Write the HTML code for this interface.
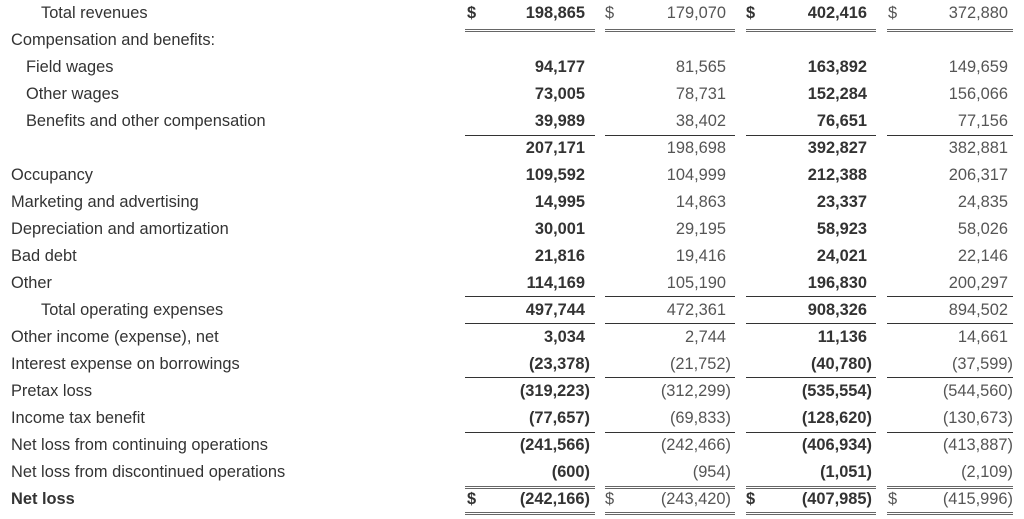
<!DOCTYPE html>
<html><head><meta charset="utf-8"><style>
body{margin:0;width:1024px;height:519px;background:#fff;position:relative;overflow:hidden;font-family:"Liberation Sans",Arial,sans-serif;font-size:16.4px;color:#333}
.r{position:absolute;left:0;width:1024px;height:27px;line-height:27px}
.l{position:absolute;white-space:nowrap}
.n{position:absolute;text-align:right;white-space:nowrap}
.c1{right:439px}.c2{right:298px}.c3{right:157px}.c4{right:11px}
.p{margin-right:-5px}
.b{font-weight:bold;color:#333}
.g{color:#555}
.d{position:absolute;font-weight:bold}
.hl{position:absolute;height:1px;background:#333}
.dl{position:absolute;height:1px;border-top:1px solid #666;border-bottom:1px solid #666}
</style></head><body>
<div class="r" style="top:0"><span class="l" style="left:41px">Total revenues</span><span class="d" style="left:467px">$</span><span class="n c1 b">198,865</span><span class="d g" style="left:605px;font-weight:normal">$</span><span class="n c2 g">179,070</span><span class="d" style="left:746px">$</span><span class="n c3 b">402,416</span><span class="d g" style="left:888px;font-weight:normal">$</span><span class="n c4 g" style="right:16px">372,880</span></div>
<div class="r" style="top:27px"><span class="l" style="left:11px">Compensation and benefits:</span></div>
<div class="r" style="top:54px"><span class="l" style="left:26px">Field wages</span><span class="n c1 b">94,177</span><span class="n c2 g">81,565</span><span class="n c3 b">163,892</span><span class="n c4 g" style="right:16px">149,659</span></div>
<div class="r" style="top:81px"><span class="l" style="left:26px">Other wages</span><span class="n c1 b">73,005</span><span class="n c2 g">78,731</span><span class="n c3 b">152,284</span><span class="n c4 g" style="right:16px">156,066</span></div>
<div class="r" style="top:108px"><span class="l" style="left:26px">Benefits and other compensation</span><span class="n c1 b">39,989</span><span class="n c2 g">38,402</span><span class="n c3 b">76,651</span><span class="n c4 g" style="right:16px">77,156</span></div>
<div class="r" style="top:135px"><span class="n c1 b">207,171</span><span class="n c2 g">198,698</span><span class="n c3 b">392,827</span><span class="n c4 g" style="right:16px">382,881</span></div>
<div class="r" style="top:162px"><span class="l" style="left:11px">Occupancy</span><span class="n c1 b">109,592</span><span class="n c2 g">104,999</span><span class="n c3 b">212,388</span><span class="n c4 g" style="right:16px">206,317</span></div>
<div class="r" style="top:189px"><span class="l" style="left:11px">Marketing and advertising</span><span class="n c1 b">14,995</span><span class="n c2 g">14,863</span><span class="n c3 b">23,337</span><span class="n c4 g" style="right:16px">24,835</span></div>
<div class="r" style="top:216px"><span class="l" style="left:11px">Depreciation and amortization</span><span class="n c1 b">30,001</span><span class="n c2 g">29,195</span><span class="n c3 b">58,923</span><span class="n c4 g" style="right:16px">58,026</span></div>
<div class="r" style="top:243px"><span class="l" style="left:11px">Bad debt</span><span class="n c1 b">21,816</span><span class="n c2 g">19,416</span><span class="n c3 b">24,021</span><span class="n c4 g" style="right:16px">22,146</span></div>
<div class="r" style="top:270px"><span class="l" style="left:11px">Other</span><span class="n c1 b">114,169</span><span class="n c2 g">105,190</span><span class="n c3 b">196,830</span><span class="n c4 g" style="right:16px">200,297</span></div>
<div class="r" style="top:297px"><span class="l" style="left:41px">Total operating expenses</span><span class="n c1 b">497,744</span><span class="n c2 g">472,361</span><span class="n c3 b">908,326</span><span class="n c4 g" style="right:16px">894,502</span></div>
<div class="r" style="top:324px"><span class="l" style="left:11px">Other income (expense), net</span><span class="n c1 b">3,034</span><span class="n c2 g">2,744</span><span class="n c3 b">11,136</span><span class="n c4 g" style="right:16px">14,661</span></div>
<div class="r" style="top:351px"><span class="l" style="left:11px">Interest expense on borrowings</span><span class="n c1 b p">(23,378)</span><span class="n c2 g p">(21,752)</span><span class="n c3 b p">(40,780)</span><span class="n c4 g" style="right:11px">(37,599)</span></div>
<div class="r" style="top:378px"><span class="l" style="left:11px">Pretax loss</span><span class="n c1 b p">(319,223)</span><span class="n c2 g p">(312,299)</span><span class="n c3 b p">(535,554)</span><span class="n c4 g" style="right:11px">(544,560)</span></div>
<div class="r" style="top:405px"><span class="l" style="left:11px">Income tax benefit</span><span class="n c1 b p">(77,657)</span><span class="n c2 g p">(69,833)</span><span class="n c3 b p">(128,620)</span><span class="n c4 g" style="right:11px">(130,673)</span></div>
<div class="r" style="top:432px"><span class="l" style="left:11px">Net loss from continuing operations</span><span class="n c1 b p">(241,566)</span><span class="n c2 g p">(242,466)</span><span class="n c3 b p">(406,934)</span><span class="n c4 g" style="right:11px">(413,887)</span></div>
<div class="r" style="top:459px"><span class="l" style="left:11px">Net loss from discontinued operations</span><span class="n c1 b p">(600)</span><span class="n c2 g p">(954)</span><span class="n c3 b p">(1,051)</span><span class="n c4 g" style="right:11px">(2,109)</span></div>
<div class="r" style="top:486px"><span class="l b" style="left:11px">Net loss</span><span class="d" style="left:467px">$</span><span class="n c1 b p">(242,166)</span><span class="d g" style="left:605px;font-weight:normal">$</span><span class="n c2 g p">(243,420)</span><span class="d" style="left:746px">$</span><span class="n c3 b p">(407,985)</span><span class="d g" style="left:888px;font-weight:normal">$</span><span class="n c4 g" style="right:11px">(415,996)</span></div>

<div class="dl" style="top:29px;left:465px;width:130px"></div><div class="dl" style="top:29px;left:605px;width:130px"></div><div class="dl" style="top:29px;left:746px;width:130px"></div><div class="dl" style="top:29px;left:887px;width:126px"></div>
<div class="hl" style="top:135px;left:465px;width:130px"></div><div class="hl" style="top:135px;left:605px;width:130px"></div><div class="hl" style="top:135px;left:746px;width:130px"></div><div class="hl" style="top:135px;left:887px;width:126px"></div>
<div class="hl" style="top:296px;left:465px;width:130px"></div><div class="hl" style="top:296px;left:605px;width:130px"></div><div class="hl" style="top:296px;left:746px;width:130px"></div><div class="hl" style="top:296px;left:887px;width:126px"></div>
<div class="hl" style="top:323px;left:465px;width:130px"></div><div class="hl" style="top:323px;left:605px;width:130px"></div><div class="hl" style="top:323px;left:746px;width:130px"></div><div class="hl" style="top:323px;left:887px;width:126px"></div>
<div class="hl" style="top:377px;left:465px;width:130px"></div><div class="hl" style="top:377px;left:605px;width:130px"></div><div class="hl" style="top:377px;left:746px;width:130px"></div><div class="hl" style="top:377px;left:887px;width:126px"></div>
<div class="hl" style="top:432px;left:465px;width:130px"></div><div class="hl" style="top:432px;left:605px;width:130px"></div><div class="hl" style="top:432px;left:746px;width:130px"></div><div class="hl" style="top:432px;left:887px;width:126px"></div>
<div class="dl" style="top:486px;left:465px;width:130px"></div><div class="dl" style="top:486px;left:605px;width:130px"></div><div class="dl" style="top:486px;left:746px;width:130px"></div><div class="dl" style="top:486px;left:887px;width:126px"></div>
<div class="dl" style="top:512px;left:465px;width:130px"></div><div class="dl" style="top:512px;left:605px;width:130px"></div><div class="dl" style="top:512px;left:746px;width:130px"></div><div class="dl" style="top:512px;left:887px;width:126px"></div>
</body></html>
